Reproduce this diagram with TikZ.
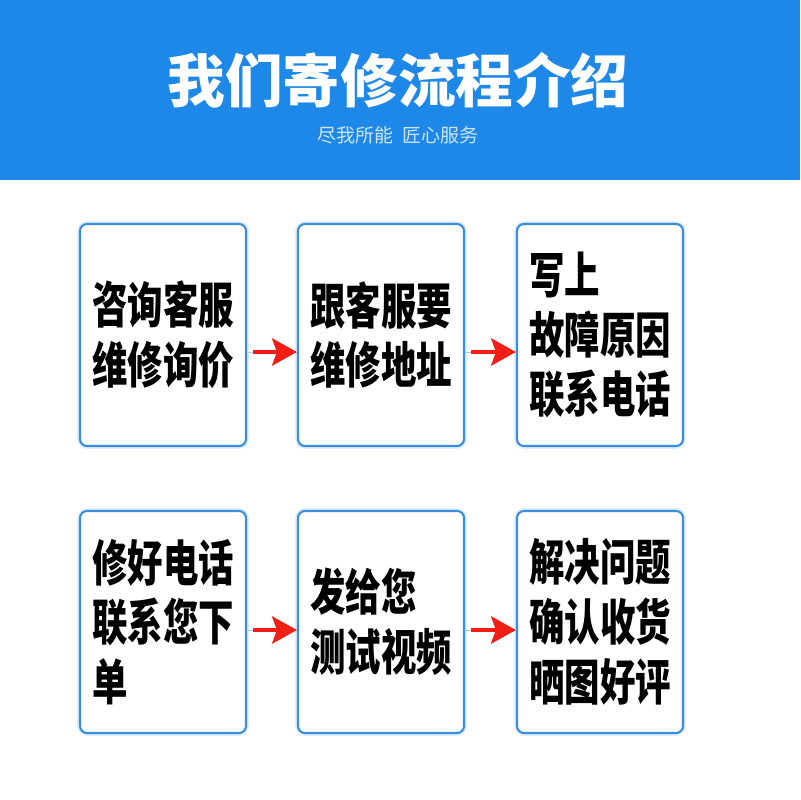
\documentclass[tikz,border=0pt]{standalone}
\usepackage{fontspec}
\newfontfamily\cjk{Noto Sans CJK SC}
\newfontfamily\cjkbox[FakeStretch=0.72]{Noto Sans CJK SC}
\usetikzlibrary{arrows.meta,positioning,calc}
\definecolor{hdrblue}{RGB}{30,136,232}
\definecolor{boxblue}{RGB}{58,142,222}
\definecolor{subblue}{RGB}{204,228,248}
\definecolor{arrred}{RGB}{240,30,20}

\begin{document}
\begin{tikzpicture}[x=0.025cm, y=-0.025cm,
    stepbox/.style={draw=boxblue, line width=1.5pt, rounded corners=5pt, fill=white, preaction={draw=boxblue!15, line width=4pt}, minimum width=4.15cm, minimum height=5.55cm, align=left, inner xsep=0pt, font=\cjkbox\bfseries\fontsize{35}{42.5}\selectfont},
    link/.style={draw=boxblue!45, line width=0.6pt},
    arr/.style={-{Stealth[length=0.62cm, width=0.68cm, inset=0.12cm]}, line width=3pt, arrred}
]
\useasboundingbox (0,0) rectangle (800,800);
\fill[white] (0,0) rectangle (800,800);
\fill[hdrblue] (0,0) rectangle (800,180);

\node[text=white, font=\cjk\bfseries\fontsize{41}{45}\selectfont] (title) at (398,80) {我们寄修流程介绍};
\node[text=subblue, font=\cjk\fontsize{13.5}{16}\selectfont] (sub) at (398,135) {尽我所能\ \ 匠心服务};

\node[stepbox] (b1) at (163,335) {咨询客服\\维修询价};
\node[stepbox] (b2) at (381,335) {跟客服要\\维修地址};
\node[stepbox] (b3) at (600,335) {写上\\故障原因\\联系电话};
\node[stepbox] (b4) at (163,622) {修好电话\\联系您下\\单};
\node[stepbox] (b5) at (381,622) {发给您\\测试视频};
\node[stepbox] (b6) at (600,622) {解决问题\\确认收货\\晒图好评};

\coordinate (r1) at (0,352);
\coordinate (r2) at (0,630);

\draw[link] (b1.east |- r1) -- (b2.west |- r1);
\draw[link] (b2.east |- r1) -- (b3.west |- r1);
\draw[link] (b4.east |- r2) -- (b5.west |- r2);
\draw[link] (b5.east |- r2) -- (b6.west |- r2);
\draw[arr] ($(b1.east |- r1)+(6,0)$) -- (b2.west |- r1);
\draw[arr] ($(b2.east |- r1)+(6,0)$) -- (b3.west |- r1);
\draw[arr] ($(b4.east |- r2)+(6,0)$) -- (b5.west |- r2);
\draw[arr] ($(b5.east |- r2)+(6,0)$) -- (b6.west |- r2);
\end{tikzpicture}
\end{document}
